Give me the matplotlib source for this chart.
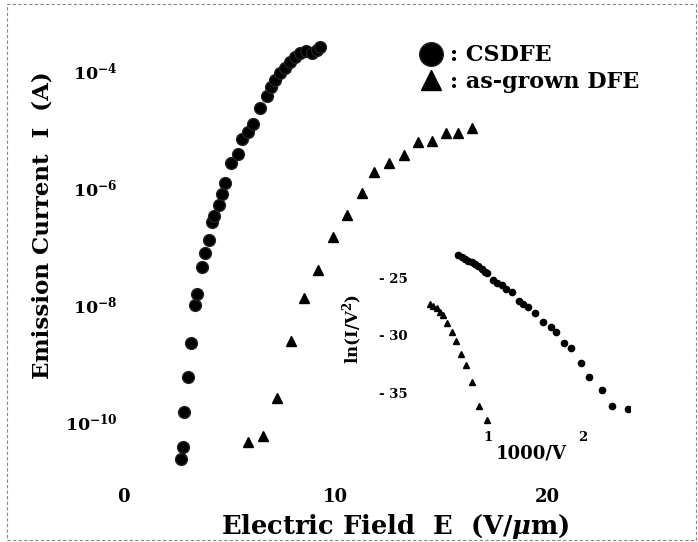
import numpy as np
import matplotlib
matplotlib.use('Agg')
import matplotlib.pyplot as plt
from matplotlib.patches import Rectangle

plt.rcParams['font.family'] = ['DejaVu Serif']
plt.rcParams['font.weight'] = 'bold'
plt.rcParams['mathtext.fontset'] = 'dejavuserif'
plt.rcParams['mathtext.default'] = 'bf'

# main plot: emission current vs field
cs_E = [2.74, 2.83, 2.88, 3.07, 3.21, 3.40, 3.49, 3.73, 3.87, 4.06, 4.20, 4.29,
        4.53, 4.67, 4.81, 5.09, 5.42, 5.61, 5.90, 6.13, 6.46, 6.79, 6.98, 7.17,
        7.41, 7.64, 7.88, 8.11, 8.35, 8.63, 8.92, 9.15, 9.29]
cs_logI = [-10.64, -10.44, -9.84, -9.25, -8.67, -8.02, -7.82, -7.36, -7.13, -6.90,
           -6.59, -6.49, -6.30, -6.11, -5.93, -5.58, -5.43, -5.18, -5.06, -4.92,
           -4.65, -4.44, -4.29, -4.17, -4.05, -3.97, -3.86, -3.78, -3.71, -3.68,
           -3.71, -3.66, -3.61]
ag_E = [5.90, 6.60, 7.26, 7.92, 8.54, 9.20, 9.91, 10.57, 11.27, 11.84, 12.55,
        13.25, 13.92, 14.58, 15.24, 15.80, 16.46]
ag_logI = [-10.35, -10.25, -9.60, -8.62, -7.90, -7.41, -6.85, -6.47, -6.10, -5.75,
           -5.58, -5.45, -5.23, -5.21, -5.07, -5.07, -4.99]

# inset: F-N plot
fn_cs_x = [0.684, 0.726, 0.758, 0.789, 0.832, 0.863, 0.895, 0.937, 0.968, 0.989,
           1.053, 1.095, 1.147, 1.189, 1.253, 1.326, 1.368, 1.421, 1.495, 1.579,
           1.663, 1.716, 1.800, 1.874, 1.979, 2.063, 2.200, 2.305, 2.474]
fn_cs_y = [-23.0, -23.17, -23.35, -23.52, -23.61, -23.78, -23.96, -24.22, -24.48,
           -24.57, -25.17, -25.43, -25.61, -25.96, -26.22, -27.0, -27.26, -27.52,
           -28.04, -28.83, -29.26, -29.70, -30.65, -31.09, -32.39, -33.61, -34.74,
           -36.13, -36.39]
fn_ag_x = [0.389, 0.421, 0.463, 0.495, 0.526, 0.568, 0.621, 0.663, 0.716, 0.768,
           0.832, 0.905, 0.989]
fn_ag_y = [-27.26, -27.43, -27.61, -27.96, -28.22, -28.91, -29.70, -30.48, -31.61,
           -32.57, -34.04, -36.13, -37.43]

yticks = [1e-4, 1e-6, 1e-8, 1e-10]
ylabels = ['10$^{-4}$', '10$^{-6}$', '10$^{-8}$', '10$^{-10}$']

W, H = 698, 542
fig = plt.figure(figsize=(W/100, H/100), dpi=100)
fig.patches.append(Rectangle((7/W, 2/H), 1 - 9/W, 1 - 6/H, transform=fig.transFigure,
                             fill=False, ec='#888888', lw=0.8, ls=(0, (3, 2))))

ax = fig.add_axes([123/W, 1 - 477/H, (668-123)/W, (477-22)/H])
ax.set_facecolor('none')
ax.semilogy(cs_E, 10**np.array(cs_logI), 'o', color='black', ms=8.5, mec='#222222',
            label=': CSDFE')
ax.semilogy(ag_E, 10**np.array(ag_logI), '^', color='black', ms=7, label=': as-grown DFE')
ax.set_xlim(0, 25.7)
ax.set_ylim(10**-10.95, 10**-3.18)
ax.set_xticks([0, 10, 20])
ax.set_xticklabels(['0', '10', '20'], fontsize=13, fontweight='bold')
ax.set_yticks(yticks)
ax.set_yticklabels(ylabels, fontsize=12.5)
ax.minorticks_off()
for s in ax.spines.values():
    s.set_visible(False)
ax.tick_params(axis='x', length=0, pad=8)
ax.tick_params(axis='y', length=0, pad=4)
ax.set_xlabel('Electric Field  E  (V/$\\mathit{\\mu}$m)', fontsize=18.5, fontweight='bold',
              labelpad=4)
ax.set_ylabel('Emission Current  I  (A)', fontsize=16.5, fontweight='bold')
ax.yaxis.set_label_coords(-0.128, 0.554)
ax.legend(loc='upper left', bbox_to_anchor=(0.528, 0.975), frameon=False, fontsize=16,
          markerscale=2.0, handlelength=0.8, handletextpad=0.45, labelspacing=0.2,
          borderpad=0)

ins = fig.add_axes([412/W, 1 - 427/H, (630-412)/W, (427-232)/H])
ins.set_facecolor('none')
ins.plot(fn_cs_x, fn_cs_y, 'o', color='black', ms=4.5)
ins.plot(fn_ag_x, fn_ag_y, '^', color='black', ms=4.5)
ins.set_xlim(0.2, 2.5)
ins.set_ylim(-38, -21)
ins.set_xticks([1, 2])
ins.set_xticklabels(['1', '2'], fontsize=9.5)
ins.set_yticks([-25, -30, -35])
ins.set_yticklabels(['- 25', '- 30', '- 35'], fontsize=9.5)
for s in ins.spines.values():
    s.set_visible(False)
ins.tick_params(length=0, pad=3)
ins.set_xlabel('1000/V', fontsize=13, fontweight='bold')
ins.xaxis.set_label_coords(0.546, -0.09)
ins.set_ylabel('ln(I/V$^2$)', fontsize=12, fontweight='bold', labelpad=10)

fig.savefig('out.png', dpi=100)
